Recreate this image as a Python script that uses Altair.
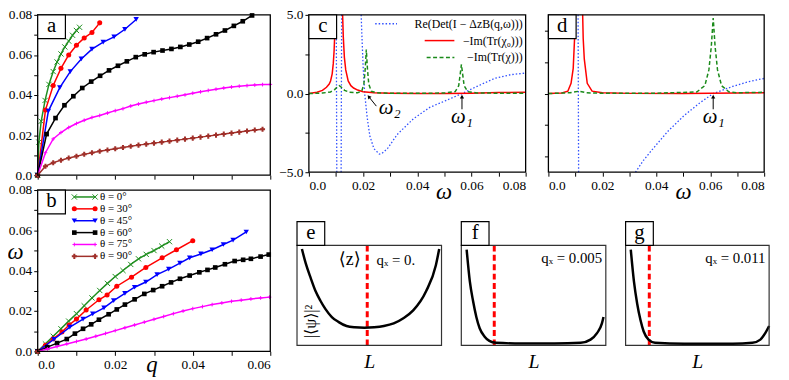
import altair as alt
import pandas as pd

SERIF = "Liberation Serif, Times New Roman, DejaVu Serif, serif"
NA = None

# ---------------- data: panels a / b ----------------
theta_labels = ["θ = 0°", "θ = 30°", "θ = 45°", "θ = 60°", "θ = 75°", "θ = 90°"]
theta_colors = ["#1f8f1f", "#ff0000", "#0000ff", "#000000", "#ff00ff", "#a0302a"]

a_q_0 = [0, 0.0003, 0.0009, 0.0019, 0.0029, 0.004, 0.005, 0.006, 0.007, 0.008, 0.009, 0.010, 0.0108]
a_w_0 = [0, 0.0165, 0.0269, 0.0373, 0.0453, 0.0517, 0.0565, 0.0605, 0.064, 0.0669, 0.0698, 0.0722, 0.0738]
a_q_30 = [0, 0.002, 0.004, 0.006, 0.008, 0.010, 0.012, 0.014, 0.016]
a_w_30 = [0, 0.0325, 0.0448, 0.0533, 0.060, 0.0648, 0.0685, 0.0712, 0.076]
a_q_45 = [0, 0.00275, 0.0057, 0.0084, 0.01125, 0.014, 0.0169, 0.0197, 0.0225, 0.0254]
a_w_45 = [0, 0.032, 0.0437, 0.0517, 0.058, 0.0629, 0.0664, 0.069, 0.0728, 0.0777]
a_q_60 = [0, 0.0023, 0.0046, 0.0069, 0.0092, 0.0115, 0.0138, 0.0161, 0.0184, 0.0207, 0.023, 0.0253,
          0.0276, 0.0299, 0.0322, 0.0345, 0.0368, 0.0391, 0.0414, 0.0437, 0.046, 0.0483, 0.0506, 0.0529, 0.0553]
a_w_60 = [0, 0.0205, 0.0285, 0.0349, 0.0394, 0.0435, 0.0467, 0.0496, 0.0523, 0.0546, 0.0568, 0.0589,
          0.0603, 0.0614, 0.0622, 0.063, 0.064, 0.0652, 0.0666, 0.0684, 0.0703, 0.0722, 0.0745, 0.0768, 0.0797]
a_q_75 = [0, 0.002, 0.004, 0.006, 0.008, 0.010, 0.012, 0.014, 0.016, 0.018, 0.020, 0.022, 0.024, 0.026, 0.028,
          0.030, 0.032, 0.034, 0.036, 0.038, 0.040, 0.042, 0.044, 0.046, 0.048, 0.050, 0.052, 0.054, 0.056, 0.058, 0.060]
a_w_75 = [0, 0.0112, 0.0181, 0.0213, 0.0238, 0.0258, 0.0274, 0.0288, 0.0298, 0.0310, 0.0322, 0.0332, 0.0345, 0.0355,
          0.0364, 0.0372, 0.0380, 0.0387, 0.0394, 0.0401, 0.0409, 0.0416, 0.0423, 0.0429, 0.0435, 0.0440, 0.0444,
          0.0447, 0.0450, 0.0452, 0.0453]
a_q_90 = [0, 0.002, 0.004, 0.006, 0.008, 0.010, 0.012, 0.014, 0.016, 0.018, 0.020, 0.022, 0.024, 0.026, 0.028,
          0.030, 0.032, 0.034, 0.036, 0.038, 0.040, 0.042, 0.044, 0.046, 0.048, 0.050, 0.052, 0.054, 0.056, 0.058]
a_w_90 = [0, 0.0045, 0.0062, 0.0075, 0.0086, 0.0095, 0.0104, 0.0112, 0.0119, 0.0126, 0.0132, 0.0138, 0.0144,
          0.0150, 0.0155, 0.0160, 0.0165, 0.0170, 0.0175, 0.0180, 0.0185, 0.0190, 0.0195, 0.0200, 0.0205,
          0.0210, 0.0215, 0.0220, 0.0225, 0.0229]

b_q_0 = [0, 0.002, 0.004, 0.006, 0.008, 0.010, 0.012, 0.014, 0.016, 0.018, 0.020, 0.022, 0.024, 0.026, 0.028,
         0.030, 0.032, 0.034]
b_w_0 = [0, 0.0037, 0.0075, 0.0112, 0.0150, 0.0187, 0.0226, 0.0265, 0.0302, 0.0337, 0.0371, 0.0401, 0.0431,
         0.0459, 0.0481, 0.0500, 0.0522, 0.0544]
b_q_30 = [0, 0.002, 0.004, 0.00625, 0.0081, 0.010, 0.0125, 0.0158, 0.0179, 0.0204, 0.0242, 0.0279, 0.0321,
          0.0358, 0.040]
b_w_30 = [0, 0.0030, 0.0062, 0.0096, 0.0131, 0.0160, 0.0205, 0.0256, 0.0280, 0.0323, 0.0368, 0.0416, 0.0464,
          0.0504, 0.0549]
b_q_45 = [0, 0.0042, 0.0083, 0.0117, 0.0142, 0.0171, 0.0196, 0.0225, 0.025, 0.0279, 0.0308, 0.0338, 0.0367,
          0.0392, 0.0421, 0.045, 0.0479, 0.0504, 0.0538]
b_w_45 = [0, 0.0060, 0.0120, 0.0160, 0.0186, 0.0216, 0.0252, 0.0288, 0.0318, 0.0344, 0.0381, 0.0408, 0.0438,
          0.0464, 0.0483, 0.0504, 0.0530, 0.0552, 0.0592]
b_q_60 = [0, 0.0025, 0.005, 0.0075, 0.0096, 0.0117, 0.0138, 0.0158, 0.0183, 0.0204, 0.0225, 0.025, 0.0275,
          0.0298, 0.0321, 0.0344, 0.0367, 0.0392, 0.0417, 0.0438, 0.0458, 0.0483, 0.0508, 0.053, 0.055, 0.0575, 0.0596]
b_w_60 = [0, 0.0021, 0.0041, 0.0061, 0.0088, 0.0112, 0.0134, 0.0157, 0.0184, 0.0208, 0.0232, 0.0258, 0.0285,
          0.0304, 0.0323, 0.0342, 0.0360, 0.0376, 0.0392, 0.0404, 0.0416, 0.0432, 0.0448, 0.0454, 0.0459, 0.0470, 0.0480]
b_q_75 = [0, 0.0025, 0.005, 0.0075, 0.010, 0.0125, 0.015, 0.0175, 0.020, 0.0225, 0.025, 0.0275, 0.030, 0.0325,
          0.035, 0.0375, 0.040, 0.0425, 0.045, 0.0475, 0.050, 0.0525, 0.055, 0.0575, 0.0598]
b_w_75 = [0, 0.0012, 0.0024, 0.0037, 0.0049, 0.0061, 0.0075, 0.0089, 0.0103, 0.0117, 0.0131, 0.0145, 0.0159,
          0.0173, 0.0187, 0.0200, 0.0212, 0.0222, 0.0232, 0.0240, 0.0248, 0.0254, 0.0260, 0.0265, 0.0269]
b_q_90 = [0]
b_w_90 = [0]

# ---------------- data: panels c / d (None = outside the plotted range) ----------------
c_red_w = [0, 0.003, 0.005, 0.0065, 0.0075, 0.008, 0.0086, 0.009, 0.0093, 0.0096, 0.0098, 0.0112, 0.01245,
           0.0127, 0.0131, 0.0136, 0.0145, 0.0155, 0.0165, 0.018, 0.020, 0.024, 0.03, 0.04, 0.05, 0.06, 0.07, 0.08]
c_red_v = [0, 0.08, 0.2, 0.4, 0.6, 0.8, 1.25, 1.9, 2.7, 4.0, 5.0, NA, 5.0, 3.6, 2.3, 1.5, 0.8, 0.5, 0.35,
           0.22, 0.12, 0.05, 0.02, 0.0, 0.0, 0.02, 0.06, 0.08]
c_grn_w = [0, 0.005, 0.008, 0.0095, 0.0105, 0.0112, 0.012, 0.0132, 0.015, 0.018, 0.0195, 0.0203, 0.0208,
           0.0212, 0.0216, 0.0221, 0.023, 0.025, 0.03, 0.04, 0.05, 0.054, 0.0553, 0.0559, 0.0563, 0.0567,
           0.0573, 0.0586, 0.062, 0.07, 0.08]
c_grn_v = [0, 0.03, 0.1, 0.25, 0.42, 0.5, 0.4, 0.2, 0.08, 0.05, 0.15, 0.6, 1.6, 2.8, 1.6, 0.6, 0.15, 0.05,
           0.02, 0.02, 0.03, 0.12, 0.5, 1.3, 1.85, 1.3, 0.5, 0.12, 0.04, 0.02, 0.02]
c_blu_w = [0.0101, 0.0103, 0.0110, 0.0119, 0.0121, 0.0150, 0.0193, 0.0195, 0.0200, 0.0206, 0.0215, 0.0225,
           0.024, 0.026, 0.027, 0.029, 0.0326, 0.0386, 0.0446, 0.0505, 0.0565, 0.0625, 0.0685, 0.0745, 0.08]
c_blu_v = [5, -5, NA, -5, 5, NA, 5, 4.0, 1.8, 0.0, -1.5, -2.7, -3.5, -3.85, -3.8, -3.5, -2.6, -1.6, -0.88,
           -0.45, 0.0, 0.49, 0.96, 1.2, 1.3]

d_red_w = [0, 0.005, 0.0072, 0.0084, 0.0092, 0.0097, 0.0099, 0.0113, 0.0127, 0.0129, 0.0133, 0.0144, 0.0162,
           0.02, 0.03, 0.05, 0.07, 0.08]
d_red_v = [0, 0.03, 0.15, 0.65, 1.6, 3.5, 5.0, NA, 5.0, 3.5, 2.2, 0.65, 0.15, 0.05, 0.01, 0.0, 0.03, 0.05]
d_grn_w = [0, 0.008, 0.0114, 0.014, 0.02, 0.04, 0.055, 0.058, 0.0595, 0.0604, 0.0611, 0.0618, 0.0627,
           0.0642, 0.067, 0.07, 0.08]
d_grn_v = [0, 0.05, 0.15, 0.05, 0.02, 0.02, 0.1, 0.5, 1.5, 3.0, 4.8, 3.0, 1.5, 0.5, 0.1, 0.05, 0.08]
d_blu_w = [0.0110, 0.0112, 0.02, 0.0323, 0.035, 0.0383, 0.0443, 0.0503, 0.0563, 0.0611, 0.0683, 0.0743, 0.08]
d_blu_v = [5, -5, NA, -5, -4.3, -3.6, -2.4, -1.4, -0.57, 0.0, 0.45, 0.76, 0.96]

c_legend = ["Re(Det(I − ΔzB(q,ω)))", "−Im(Tr(χ₀)))", "−Im(Tr(χ)))"]

# ---------------- data: panels e / f / g ----------------
e_L = [0.034, 0.061, 0.095, 0.128, 0.162, 0.196, 0.241, 0.286, 0.343, 0.399, 0.466, 0.534, 0.601, 0.669,
       0.736, 0.804, 0.894, 0.961, 0.984]
e_v = [0.964, 0.818, 0.673, 0.544, 0.447, 0.366, 0.284, 0.236, 0.194, 0.182, 0.178, 0.182, 0.194, 0.220,
       0.272, 0.350, 0.544, 0.803, 0.964]
f_L = [0.037, 0.059, 0.081, 0.104, 0.127, 0.160, 0.194, 0.240, 0.420, 0.646, 0.826, 0.894, 0.939, 0.973, 0.984]
f_v = [0.958, 0.641, 0.447, 0.285, 0.172, 0.090, 0.046, 0.026, 0.019, 0.019, 0.026, 0.058, 0.123, 0.220, 0.285]
g_L = [0.036, 0.058, 0.081, 0.104, 0.126, 0.160, 0.205, 0.409, 0.747, 0.883, 0.939, 0.973, 1.0]
g_v = [0.958, 0.641, 0.415, 0.252, 0.139, 0.058, 0.026, 0.017, 0.017, 0.026, 0.058, 0.123, 0.194]
z_marks = [0.486, 0.228, 0.165]
qx_labels = ["qₓ = 0.", "qₓ = 0.005", "qₓ = 0.011"]

# ---------------- layout (pixels inside the single view) ----------------
W, H = 781, 372
BOX = {  # panel: (left, right, top, bottom)
    "a": (30, 265, 5, 167), "b": (30, 265, 182, 345),
    "c": (304, 523, 5, 164), "d": (546, 764, 5, 164),
    "e": (292, 438, 238, 339), "f": (458, 604, 238, 339), "g": (624, 769, 238, 339),
}

X_PATH = "M-1,-1L1,1M-1,1L1,-1"
PLUS_PATH = "M-1,0L1,0M0,-1L0,1"
marker_style = [
    dict(shape=X_PATH, filled=False, size=28, strokeWidth=1),
    dict(shape="circle", filled=True, size=26),
    dict(shape="triangle-down", filled=True, size=30),
    dict(shape="square", filled=True, size=22),
    dict(shape=PLUS_PATH, filled=False, size=14, strokeWidth=1),
    dict(shape="cross", filled=True, size=26),
]

TICK01 = [round(i * 0.01, 2) for i in range(9)]
EVEN_LBL = "datum.value == 0 ? '0.0' : (round(datum.value*100) % 2 == 0 ? format(datum.value, '.2f') : '')"


def label_box(letter, x0, y0):
    df = pd.DataFrame({"t": [letter]})
    box = alt.Chart(df).mark_rect(fill="white", stroke="black", strokeWidth=1.2).encode(
        x=alt.value(x0), x2=alt.value(x0 + 28), y=alt.value(y0), y2=alt.value(y0 + 24))
    txt = alt.Chart(df).mark_text(font=SERIF, fontSize=21, baseline="middle", align="center",
                                  color="black").encode(x=alt.value(x0 + 14), y=alt.value(y0 + 11), text="t:N")
    return [box, txt]


def frame(xs, ys, xdom, ydom, xaxis, yaxis, color="black", sw=1.3):
    return alt.Chart(pd.DataFrame({"k": [0]})).mark_rect(fill="transparent", stroke=color, strokeWidth=sw).encode(
        x=alt.X(datum=xdom[0], type="quantitative", scale=xs, axis=xaxis), x2=alt.X2(datum=xdom[1]),
        y=alt.Y(datum=ydom[0], type="quantitative", scale=ys, axis=yaxis), y2=alt.Y2(datum=ydom[1]))


def theta_panel(key, qs_list, ws_list, bottom, with_legend):
    l, r, t, b = BOX[key]
    xs = alt.Scale(domain=[0, 0.06], nice=False, zero=False, range=[l, r])
    ys = alt.Scale(domain=[0, 0.08], nice=False, zero=False, range=[b, t])
    if bottom:
        xaxis = alt.Axis(orient="bottom", offset=b - H, values=TICK01[:7], labelExpr=EVEN_LBL, title="q",
                         titleFontSize=23, titleFontStyle="italic", titleX=145, titleY=20,
                         titleBaseline="alphabetic", titleAlign="center", tickSize=4, labelPadding=2)
        yaxis = alt.Axis(orient="left", offset=-l, values=TICK01, labelExpr=EVEN_LBL, title="ω", titleAngle=0,
                         titleFontSize=23, titleFontStyle="italic", titleX=-23, titleY=t + 62,
                         titleAlign="center", titleBaseline="middle", tickSize=4, labelPadding=2)
    else:
        xaxis = alt.Axis(orient="bottom", offset=b - H, values=TICK01[:7], labels=False, title=None, tickSize=4)
        yaxis = alt.Axis(orient="left", offset=-l, values=TICK01, labelExpr=EVEN_LBL, title=None, tickSize=4,
                         labelPadding=2)
    layers = []
    for i, (qs, ws) in enumerate(zip(qs_list, ws_list)):
        df = pd.DataFrame({"q": qs, "w": ws})
        base = alt.Chart(df).encode(x=alt.X("q:Q", scale=xs, axis=xaxis), y=alt.Y("w:Q", scale=ys, axis=yaxis))
        layers.append(base.mark_line(color=theta_colors[i], strokeWidth=1.5))
        layers.append(base.mark_point(color=theta_colors[i], opacity=1, **marker_style[i]))
    layers.append(frame(xs, ys, [0, 0.06], [0, 0.08], xaxis, yaxis))
    layers += label_box(key, l, t)
    if with_legend:
        for i, lab in enumerate(theta_labels):
            ldf = pd.DataFrame({"t": [lab]})
            yy = t + [7, 19, 31, 43, 55, 67][i]
            layers.append(alt.Chart(ldf).mark_rule(color=theta_colors[i], strokeWidth=1.5).encode(
                x=alt.value(l + 37), x2=alt.value(l + 58), y=alt.value(yy)))
            for mx in (l + 37, l + 58):
                layers.append(alt.Chart(ldf).mark_point(color=theta_colors[i], opacity=1,
                                                        **marker_style[i]).encode(
                    x=alt.value(mx), y=alt.value(yy)))
            layers.append(alt.Chart(ldf).mark_text(font=SERIF, fontSize=11, align="left", baseline="middle",
                                                   color="black").encode(
                x=alt.value(l + 63), y=alt.value(yy), text="t:N"))
    return alt.layer(*layers)


def det_panel(key, curves, labels_on, arrows, legend):
    l, r, t, b = BOX[key]
    xs = alt.Scale(domain=[0, 0.08], nice=False, zero=False, range=[l, r])
    ys = alt.Scale(domain=[-5, 5], nice=False, zero=False, range=[b, t])
    xaxis = alt.Axis(orient="bottom", offset=b - H, values=TICK01, labelExpr=EVEN_LBL, title="ω",
                     titleFontSize=23, titleFontStyle="italic", titleX=l + 136, titleY=27,
                     titleBaseline="alphabetic", titleAlign="center", tickSize=4, labelPadding=2)
    if labels_on:
        yaxis = alt.Axis(orient="left", offset=-l, values=[-5, -2.5, 0, 2.5, 5],
                         labelExpr="datum.value == 0 ? '0.0' : (abs(datum.value) == 5 ? format(datum.value, '.1f') : '')",
                         title=None, tickSize=4, labelPadding=2)
    else:
        yaxis = alt.Axis(orient="left", offset=-l, values=[-4, -2, 0, 2, 4], labels=False, title=None, tickSize=4)
    X = alt.X("om:Q", scale=xs, axis=xaxis)
    Y = alt.Y("val:Q", scale=ys, axis=yaxis)
    layers = []
    for (ws, vs, color, dash, sw) in curves:
        df = pd.DataFrame({"om": ws, "val": vs})
        kw = dict(color=color, strokeWidth=sw)
        if dash:
            kw["strokeDash"] = dash
        layers.append(alt.Chart(df).mark_line(**kw).encode(x=X, y=Y))
    for (xw, y_from, y_to, ang, lab, lx, ly, lalign) in arrows:
        adf = pd.DataFrame({"om": [xw[0]], "om2": [xw[1]], "val": [y_from], "val2": [y_to]})
        layers.append(alt.Chart(adf).mark_rule(color="black", strokeWidth=1).encode(
            x=X, x2="om2:Q", y=Y, y2="val2:Q"))
        hdf = pd.DataFrame({"om": [xw[1]], "val": [y_to]})
        layers.append(alt.Chart(hdf).mark_point(shape="triangle-up", filled=True, color="black", size=18,
                                                opacity=1, angle=ang).encode(x=X, y=Y))
        tdf = pd.DataFrame({"om": [lx], "val": [ly], "t": [lab]})
        layers.append(alt.Chart(tdf).mark_text(font=SERIF, fontSize=21, fontStyle="italic", align=lalign,
                                               baseline="alphabetic", color="black").encode(x=X, y=Y, text="t:N"))
    layers.append(frame(xs, ys, [0, 0.08], [-5, 5], xaxis, yaxis))
    layers += label_box(key, l, t)
    if legend:
        specs = [(c_legend[0], "#3050ff", [1.5, 2], 67, 89, 9),
                 (c_legend[1], "#ff0000", None, 117, 147, 26),
                 (c_legend[2], "#1a8a1a", [4, 2.5], 119, 147, 43)]
        for (txt, col, dash, x1, x2, yy) in specs:
            ldf = pd.DataFrame({"t": [txt]})
            kw = dict(color=col, strokeWidth=1.5)
            if dash:
                kw["strokeDash"] = dash
            layers.append(alt.Chart(ldf).mark_rule(**kw).encode(
                x=alt.value(l + x1), x2=alt.value(l + x2), y=alt.value(t + yy)))
            layers.append(alt.Chart(ldf).mark_text(font=SERIF, fontSize=12, align="right", baseline="middle",
                                                   color="black").encode(
                x=alt.value(r - 3), y=alt.value(t + yy), text="t:N"))
    return alt.layer(*layers)


def profile_panel(key, Ls, vs, zpos, texts):
    l, r, t, b = BOX[key]
    xs = alt.Scale(domain=[0, 1], nice=False, zero=False, range=[l, r])
    ys = alt.Scale(domain=[0, 1], nice=False, zero=False, range=[b, t])
    xaxis = alt.Axis(orient="bottom", offset=b - H, labels=False, ticks=False, domain=False, title="L",
                     titleFontSize=20, titleFontStyle="italic", titleX=(l + r) / 2, titleY=22,
                     titleAlign="center", titleBaseline="alphabetic")
    X = alt.X("L:Q", scale=xs, axis=xaxis)
    Y = alt.Y("v:Q", scale=ys, axis=None)
    df = pd.DataFrame({"L": Ls, "v": vs})
    zdf = pd.DataFrame({"L": [zpos], "v": [0.0], "v2": [1.0]})
    layers = [alt.Chart(zdf).mark_rule(color="#ff0000", strokeWidth=3, strokeDash=[6, 3.5]).encode(
        x=X, y=Y, y2="v2:Q")]
    layers.append(alt.Chart(df).mark_line(color="black", strokeWidth=2.5, interpolate="monotone").encode(x=X, y=Y))
    for (txt, lx, ly, al, fs, ang) in texts:
        tdf = pd.DataFrame({"L": [lx], "v": [ly], "t": [txt]})
        layers.append(alt.Chart(tdf).mark_text(font=SERIF, fontSize=fs, align=al, baseline="middle",
                                               angle=ang, color="black").encode(x=X, y=Y, text="t:N"))
    layers.append(frame(xs, ys, [0, 1], [0, 1], xaxis, None, color="#333333", sw=1.2))
    layers += label_box(key, l, t - 24)
    return alt.layer(*layers)


pa = theta_panel("a", [a_q_0, a_q_30, a_q_45, a_q_60, a_q_75, a_q_90],
                 [a_w_0, a_w_30, a_w_45, a_w_60, a_w_75, a_w_90], False, False)
pb = theta_panel("b", [b_q_0, b_q_30, b_q_45, b_q_60, b_q_75, b_q_90],
                 [b_w_0, b_w_30, b_w_45, b_w_60, b_w_75, b_w_90], True, True)
pc = det_panel("c", [(c_blu_w, c_blu_v, "#3050ff", [1.5, 2], 1.3),
                     (c_red_w, c_red_v, "#ff0000", None, 1.5),
                     (c_grn_w, c_grn_v, "#1a8a1a", [4, 2.5], 1.5)],
               True,
               [((0.0249, 0.0221), -0.8, -0.2, 320, "ω₂", 0.0258, -1.3, "left"),
                ((0.0565, 0.0565), -1.0, -0.2, 0, "ω₁", 0.0565, -1.9, "center")],
               True)
pd_ = det_panel("d", [(d_blu_w, d_blu_v, "#3050ff", [1.5, 2], 1.3),
                      (d_red_w, d_red_v, "#ff0000", None, 1.5),
                      (d_grn_w, d_grn_v, "#1a8a1a", [4, 2.5], 1.5)],
                False,
                [((0.0611, 0.0611), -1.0, -0.2, 0, "ω₁", 0.0613, -1.9, "center")],
                False)
pe = profile_panel("e", e_L, e_v, z_marks[0],
                   [("⟨z⟩", 0.365, 0.85, "center", 18, 0), (qx_labels[0], 0.55, 0.85, "left", 15, 0),
                    ("|⟨ψ⟩|²", 0.095, 0.24, "center", 16, 270)])
pf = profile_panel("f", f_L, f_v, z_marks[1], [(qx_labels[1], 0.975, 0.87, "right", 15, 0)])
pg = profile_panel("g", g_L, g_v, z_marks[2], [(qx_labels[2], 0.975, 0.87, "right", 15, 0)])

chart = alt.layer(pa, pb, pc, pd_, pe, pf, pg).resolve_scale(
    x="independent", y="independent"
).properties(
    width=W, height=H, autosize=alt.AutoSizeParams(type="none"), padding=0
).configure_view(stroke="transparent").configure_axis(
    labelFont=SERIF, titleFont=SERIF, labelFontSize=13.5, labelColor="black", titleColor="black",
    titleFontWeight="normal", tickColor="black", domain=False, grid=False
)

chart.save("out.html", embed_options={"renderer": "svg", "actions": False})
